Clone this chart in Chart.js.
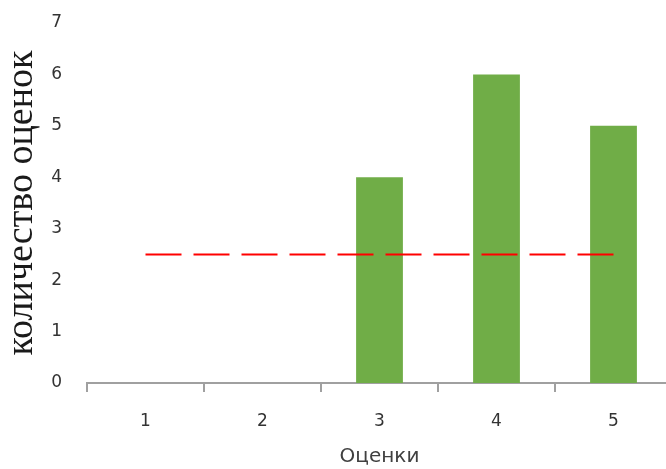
<!DOCTYPE html>
<html>
<head>
<meta charset="utf-8">
<script src="https://cdn.jsdelivr.net/npm/chart.js@4"></script>
<style>
  html, body { margin: 0; padding: 0; background: #fff; overflow: hidden; }
  #wrap { position: relative; width: 680px; height: 469px; }
</style>
</head>
<body>
<div id="wrap"><canvas id="c"></canvas></div>
<script>
// Оценки и количество каждой оценки
const grades = ['1', '2', '3', '4', '5'];
const counts = [0, 0, 4, 6, 5];
// Пороговая линия
const threshold = [2.5, 2.5, 2.5, 2.5, 2.5];
const yTicks = [0, 1, 2, 3, 4, 5, 6, 7];

const axisGray = '#a0a0a0';
const tickFont = { family: 'DejaVu Sans', size: 17 };

new Chart(document.getElementById('c'), {
  data: {
    labels: grades,
    datasets: [
      {
        type: 'line',
        data: threshold,
        borderColor: '#ff0000',
        borderWidth: 2,
        borderDash: [36, 12],
        pointRadius: 0,
        fill: false,
        order: 0
      },
      {
        type: 'bar',
        data: counts,
        backgroundColor: '#70ad47',
        borderWidth: 0,
        barPercentage: 0.4,
        categoryPercentage: 1.0,
        order: 1
      }
    ]
  },
  options: {
    responsive: true,
    maintainAspectRatio: false,
    animation: false,
    layout: { padding: { left: 0, right: 8, top: 23, bottom: 0 } },
    plugins: { legend: { display: false }, tooltip: { enabled: false } },
    scales: {
      x: {
        offset: true,
        grid: {
          display: true,
          drawOnChartArea: false,
          drawTicks: true,
          tickLength: 9,
          color: axisGray,
          lineWidth: 2,
          offset: true
        },
        border: { display: true, color: axisGray, width: 2 },
        ticks: { color: '#333333', font: tickFont, padding: 19 },
        title: {
          display: true,
          text: 'Оценки',
          color: '#404040',
          font: { family: 'DejaVu Sans', size: 20, lineHeight: 1.2 },
          padding: { top: 0, bottom: 0 }
        },
        afterFit: (s) => { s.height = 86; s.paddingLeft = 0; s.paddingRight = 0; }
      },
      y: {
        min: 0,
        max: 7,
        afterBuildTicks: (s) => { s.ticks = yTicks.map(v => ({ value: v })); },
        grid: { display: false },
        border: { display: false },
        ticks: { color: '#333333', font: tickFont, padding: 17 },
        title: {
          display: true,
          text: 'количество оценок',
          color: '#1a1a1a',
          font: { family: 'Liberation Serif', size: 38, lineHeight: 1 },
          padding: { top: 3, bottom: 0 }
        },
        afterFit: (s) => { s.width = 87; s.paddingTop = 0; s.paddingBottom = 0; }
      }
    }
  }
});
</script>
</body>
</html>
